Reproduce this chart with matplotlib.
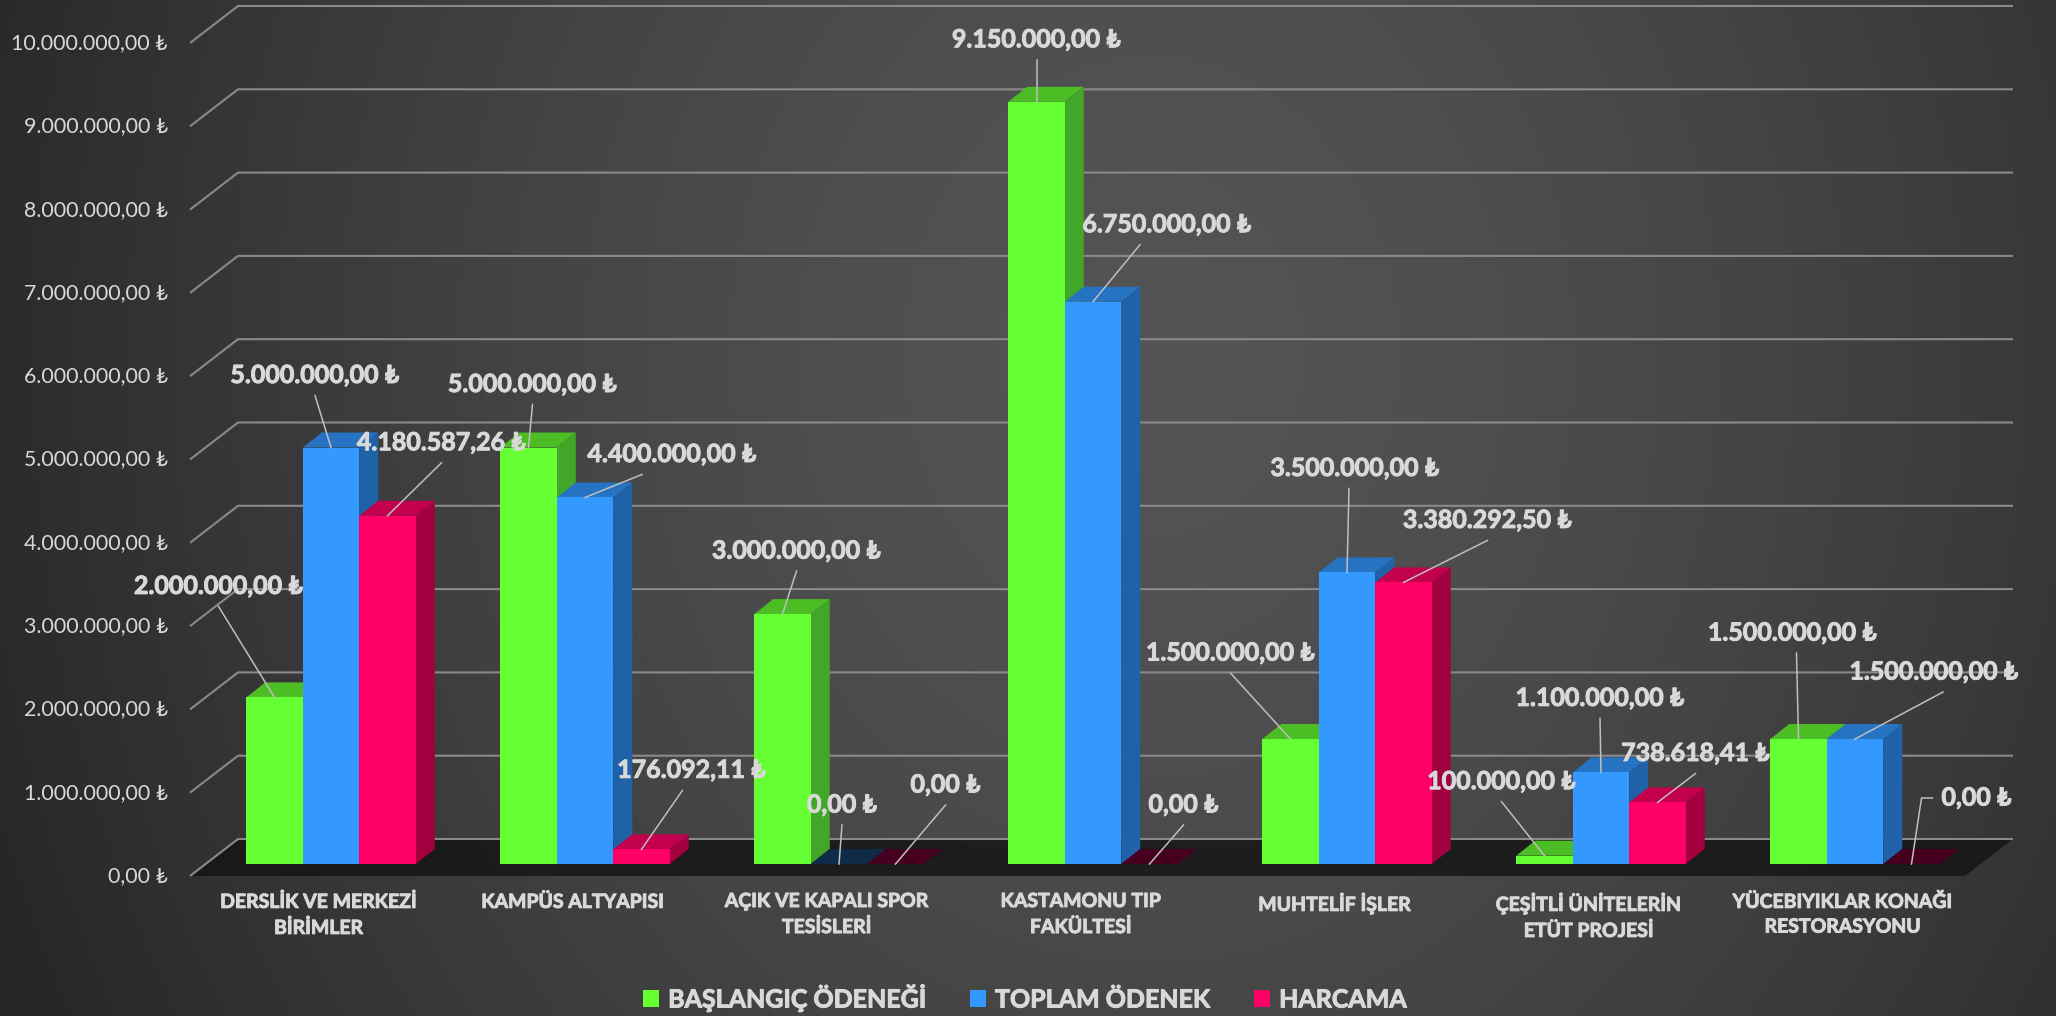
import numpy as np
import matplotlib.pyplot as plt
import matplotlib.patheffects as pe
from matplotlib.patches import Polygon, Patch

plt.rcParams['font.family'] = ['Lato', 'DejaVu Sans']

categories = ['DERSLİK VE MERKEZİ\nBİRİMLER', 'KAMPÜS ALTYAPISI', 'AÇIK VE KAPALI SPOR\nTESİSLERİ',
              'KASTAMONU TIP\nFAKÜLTESİ', 'MUHTELİF İŞLER', 'ÇEŞİTLİ ÜNİTELERİN\nETÜT PROJESİ',
              'YÜCEBIYIKLAR KONAĞI\nRESTORASYONU']
baslangic = [2000000.00, 5000000.00, 3000000.00, 9150000.00, 1500000.00, 100000.00, 1500000.00]
toplam = [5000000.00, 4400000.00, 0.00, 6750000.00, 3500000.00, 1100000.00, 1500000.00]
harcama = [4180587.26, 176092.11, 0.00, 0.00, 3380292.50, 738618.41, 0.00]
series_names = ['BAŞLANGIÇ ÖDENEĞİ', 'TOPLAM ÖDENEK', 'HARCAMA']
yticks = np.arange(0, 10000001, 1000000)

# colours: front, top, side, top of an empty bar
front_c = ['#66ff33', '#3399ff', '#ff0066']
top_c = ['#4dbd26', '#2673c2', '#c2004e']
side_c = ['#42a628', '#2062a8', '#a3003f']
zero_c = ['#2f6a1a', '#0f2b47', '#45001f']

# label placement (px, relative to top-front centre of each bar, y up)
label_off = [[(-56, 111), (-16, 72), (54, 73)],
             [(4, 63), (87, 43), (50, 79)],
             [(14, 63), (3, 59), (50, 79)],
             [(0, 62), (74, 77), (34, 59)],
             [(-60, 86), (8, 104), (84, 62)],
             [(-43, 74), (-1, 74), (38, 49)],
             [(-6, 106), (79, 67), (65, 66)]]
leader_dx = [[0, 0, 0], [0, -30, -9], [0, 0, 0], [0, -27, 0],
             [0, -6, 0], [0, 0, 0], [4, 9, None]]

# screen geometry (pixels)
W, H = 2056, 1016
X0, PX_CAT = 331, 254       # centre of first group, px per category
Y0, PX_M = 864, 83.3        # baseline of bar fronts (from top), px per million
BAR_W = 56.5 / PX_CAT


def px_x(p):
    return (p - X0) / PX_CAT


def px_y(p):
    return (Y0 - p) / PX_M * 1e6


def dx(p):
    return p / PX_CAT


def dv(p):
    return p / PX_M * 1e6


def fmt(v):
    s = f"{v:,.2f}".replace(',', 'X').replace('.', ',').replace('X', '.')
    return s + ' ₺'


txt_c = '#d9d9d9'
thick = [pe.withStroke(linewidth=0.7, foreground=txt_c)]

fig = plt.figure(figsize=(W / 100, H / 100), dpi=100)
ax = fig.add_axes([0, 0, 1, 1])
ax.set_xlim(px_x(0), px_x(W))
ax.set_ylim(px_y(H), px_y(0))
ax.axis('off')

# background
yy, xx = np.mgrid[0:H:4, 0:W:4]
r = np.sqrt(((xx - 1150) / 1250.0) ** 2 + ((yy - 350) / 1500.0) ** 2)
g = (38 + 46 * np.clip(1 - r ** 1.5, 0, 1)) / 255.0
bg = np.dstack([g, g, g])
ax.imshow(bg, extent=(px_x(0), px_x(W), px_y(H), px_y(0)), aspect='auto', zorder=0, interpolation='bilinear')

# gridlines + tick labels
for v in yticks:
    xa, ya = px_x(190), v - dv(12)
    xb, yb = xa + dx(48), ya + dv(37)
    ax.plot([xa, xb, px_x(2013)], [ya, yb, yb], color='#8a8a8a', lw=1.5, zorder=1,
            solid_capstyle='butt')
    ax.text(px_x(168), ya, fmt(v), ha='right', va='center', fontsize=15.4, color=txt_c, zorder=10)

# floor
xa, ya = px_x(190), -dv(12)
floor = Polygon([(xa, ya), (xa + dx(48), ya + dv(37)), (px_x(2013), ya + dv(37)),
                 (px_x(2013) - dx(48), ya)], closed=True, facecolor='#151515', alpha=0.85,
                edgecolor='none', zorder=0.8)
ax.add_patch(floor)

# bars
data = [baslangic, toplam, harcama]
x = np.arange(len(categories))
bdx, bdv = dx(19), dv(15)
for j, vals in enumerate(data):
    left = x + (j - 1.5) * BAR_W
    ax.bar(left, vals, width=BAR_W, align='edge', color=front_c[j], edgecolor='none', zorder=4)
for i in range(len(categories)):
    for j, vals in enumerate(data):
        xl = i + (j - 1.5) * BAR_W
        v = vals[i]
        tc = top_c[j] if v > 0 else zero_c[j]
        top = Polygon([(xl, v), (xl + BAR_W, v), (xl + BAR_W + bdx, v + bdv), (xl + bdx, v + bdv)],
                      closed=True, facecolor=tc, edgecolor='none', zorder=3)
        ax.add_patch(top)
        if v > 0:
            side = Polygon([(xl + BAR_W, 0), (xl + BAR_W, v), (xl + BAR_W + bdx, v + bdv),
                            (xl + BAR_W + bdx, bdv)], closed=True, facecolor=side_c[j],
                           edgecolor='none', zorder=3)
            ax.add_patch(side)

# data labels with leader lines
for i in range(len(categories)):
    for j, vals in enumerate(data):
        v = vals[i]
        ax_x = i + (j - 1) * BAR_W
        ox, oy = label_off[i][j]
        lx, ly = ax_x + dx(ox), v + dv(oy)
        ax.text(lx, ly, fmt(v), ha='center', va='center', fontsize=18, fontweight='bold',
                color=txt_c, zorder=10, path_effects=thick)
        ldx = leader_dx[i][j]
        if ldx is None:
            ex, ey = lx - dx(44), ly
            ax.plot([ax_x, ex - dx(11), ex], [v, ey, ey], color='#bfbfbf', lw=1.1, zorder=9)
        else:
            ax.plot([ax_x, lx + dx(ldx)], [v, ly - dv(20)], color='#bfbfbf', lw=1.1, zorder=9)

# category labels
for i, c in enumerate(categories):
    ax.text(i - dx(12), px_y(893), c, ha='center', va='top', fontsize=14, fontweight='bold',
            color=txt_c, linespacing=1.55, zorder=10, path_effects=thick)

handles = [Patch(facecolor=front_c[k], edgecolor='none', label=series_names[k]) for k in range(3)]
leg = fig.legend(handles=handles, loc='center', bbox_to_anchor=(1025 / W, 18 / H), ncol=3, frameon=False,
                 prop={'weight': 'bold', 'size': 18}, labelcolor=txt_c, handlelength=0.65,
                 handleheight=0.65, handletextpad=0.35, columnspacing=1.75)
for t in leg.get_texts():
    t.set_path_effects(thick)

fig.savefig('out.png', dpi=100)
